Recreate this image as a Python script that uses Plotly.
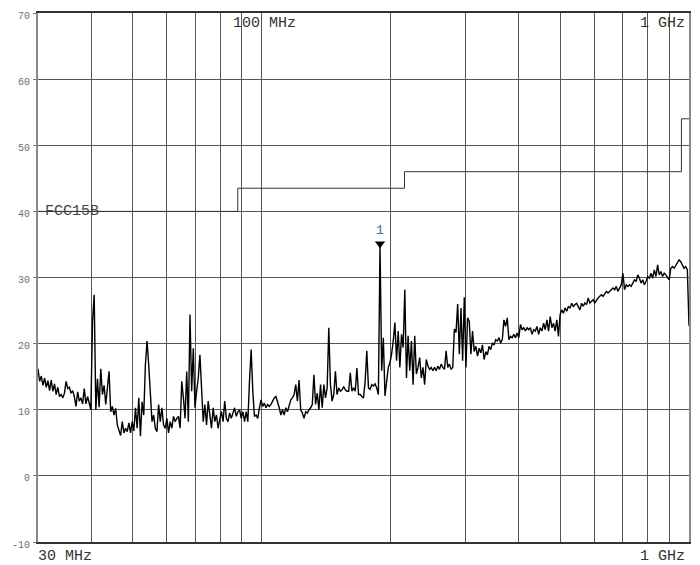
import numpy as np
import plotly.graph_objects as go

# Sweep settings (spectrum analyzer, log sweep)
F_START_MHZ = 30
F_STOP_MHZ = 1000

level_30_48 = [
    16.2, 14.3, 15.1, 13.7, 14.8, 13.4, 14.4, 12.9, 14.5, 12.8,
    13.9, 12.3, 13.4, 12.0, 12.3, 11.8, 12.5, 14.3, 13.2, 13.4,
    12.5, 12.9, 12.0, 10.5, 12.7, 11.3, 11.8, 10.9, 13.2, 10.9,
    12.0, 10.7, 10.0, 23.4, 27.4, 10.0, 14.7, 10.4, 16.2, 12.3,
    13.7, 10.8, 13.3, 15.8, 9.7, 10.5, 9.2, 10.2, 7.7, 7.0,
    6.1, 8.2, 6.5, 7.2, 6.7, 8.0, 6.5, 8.2, 6.8, 10.3,
    7.2, 11.8, 6.0, 11.2, 9.2, 16.8,
]
level_48_100 = [
    20.4, 16.8, 11.8, 8.2, 9.2, 7.2, 6.7, 10.8, 8.2, 10.3,
    7.7, 7.2, 8.7, 6.5, 8.2, 7.2, 9.0, 8.2, 8.7, 9.0,
    7.2, 14.3, 11.8, 8.7, 15.8, 8.2, 24.4, 12.8, 19.3, 10.3,
    12.8, 14.8, 18.3, 12.3, 8.2, 10.8, 7.7, 11.3, 9.2, 7.2,
    10.3, 8.2, 9.2, 7.2, 8.5, 9.7, 8.2, 11.3, 8.7, 8.2,
    9.5, 8.7, 9.5, 10.3, 9.0, 9.7, 10.0, 8.7, 9.7, 8.2,
    9.7, 8.2, 14.3, 19.1, 12.8, 9.0,
]
level_100_180 = [
    9.2, 8.7, 10.3, 11.5, 10.5, 11.0, 10.3, 10.8, 10.5, 10.8,
    11.3, 11.8, 12.0, 11.3, 10.3, 9.2, 10.0, 9.2, 10.3, 9.7,
    10.5, 11.5, 11.8, 12.3, 13.8, 11.3, 14.5, 10.0, 9.5, 8.7,
    9.7, 9.5, 10.0, 10.3, 10.8, 15.3, 10.8, 12.5, 10.0, 13.8,
    10.3, 13.8, 11.8, 13.3, 22.4, 13.8, 11.3, 12.3, 15.8, 12.3,
    13.3, 12.8, 13.0, 13.5, 13.0, 12.8, 12.8, 15.6, 12.8, 13.3,
    12.8, 16.3, 12.3, 12.3, 12.0, 11.8,
]
level_180_320 = [
    14.3, 18.9, 13.3, 13.1, 13.8, 13.6, 13.9, 13.3, 12.3, 34.8,
    15.9, 20.9, 12.1, 14.8, 16.4, 17.1, 18.4, 20.4, 23.2, 17.4,
    21.9, 16.4, 21.4, 19.4, 28.2, 14.8, 21.2, 15.9, 20.4, 13.8,
    21.2, 15.4, 16.4, 17.9, 14.8, 16.4, 13.8, 17.6, 16.6, 16.1,
    16.4, 15.9, 16.4, 15.9, 16.6, 16.1, 16.9, 16.4, 16.1, 18.9,
    16.4, 16.9, 16.1, 16.4, 22.2, 21.7, 26.0, 18.4, 25.4, 17.4,
    27.0, 16.4, 23.9, 23.4, 18.4, 21.9,
]
level_320_580 = [
    18.8, 19.6, 18.1, 19.3, 18.6, 19.8, 17.6, 18.8, 18.3, 19.6,
    19.1, 20.1, 19.8, 20.6, 20.4, 20.9, 20.1, 20.6, 23.6, 22.6,
    23.9, 20.6, 21.1, 20.9, 21.4, 20.9, 21.6, 20.9, 22.9, 22.1,
    22.4, 21.9, 22.4, 22.1, 22.4, 21.4, 22.1, 21.9, 22.6, 21.4,
    22.4, 21.9, 23.1, 22.1, 23.6, 21.9, 24.1, 22.4, 23.1, 21.9,
    23.6, 21.1, 24.4, 25.1, 24.6, 25.4, 24.9, 25.6, 25.4, 26.1,
    25.6, 25.9, 26.1, 25.6, 25.1, 26.1,
]
level_580_1000 = [
    25.65, 26.15, 25.9, 26.9, 26.15, 26.4, 26.65, 26.15, 26.65, 26.9,
    27.15, 27.4, 27.15, 27.65, 27.9, 27.65, 27.9, 28.15, 28.4, 28.15,
    28.65, 27.9, 28.4, 28.9, 30.65, 28.15, 28.9, 28.65, 28.9, 28.65,
    29.15, 29.65, 29.4, 30.4, 29.9, 29.15, 29.65, 28.9, 29.4, 30.15,
    29.9, 30.65, 29.9, 31.15, 30.15, 31.9, 30.4, 30.9, 30.15, 30.65,
    30.4, 29.9, 29.65, 31.4, 31.65, 31.4, 31.9, 32.15, 32.65, 32.4,
    31.9, 31.4, 31.65, 31.2, 22.7,
]
level = (level_30_48 + level_48_100 + level_100_180 + level_180_320
         + level_320_580 + level_580_1000)
freq = np.geomspace(F_START_MHZ, F_STOP_MHZ, len(level))

# FCC Part 15 class B limit
limit_freq = [30, 88, 216, 960, 1000]
limit_level = [40, 43.5, 46, 54, 54]
limit_name = "FCC15B"

# Marker
marker_freq = [189.3]
marker_level = [35.1]
marker_label = ["1"]

# Axis ticks / grid
x_grid = [30, 40, 50, 60, 70, 80, 90, 100, 200, 300, 400, 500, 600, 700, 800, 900, 1000]
y_ticks = [-10, 0, 10, 20, 30, 40, 50, 60, 70]
y_ticktext = ["-10", "0", "10", "20", "30", "40", "50", "60", "70"]

MONO = "Liberation Mono"

fig = go.Figure()
fig.add_trace(go.Scatter(x=limit_freq, y=limit_level, mode="lines",
                         line=dict(color="#333333", width=1, shape="hv"),
                         hoverinfo="skip", showlegend=False))
fig.add_trace(go.Scatter(x=freq, y=level, mode="lines",
                         line=dict(color="#000000", width=1.4),
                         showlegend=False))
fig.add_trace(go.Scatter(x=marker_freq, y=marker_level, mode="markers+text",
                         marker=dict(symbol="triangle-down", size=9, color="#000000"),
                         text=marker_label, textposition="top center",
                         textfont=dict(family=MONO, size=13, color="#3f66a8"),
                         showlegend=False))

# Positions as fractions of the reference plot area (x 40..696, y 13..542)
def px(xp):
    return (xp - 40) / 656.0

def py(yp):
    return (542 - yp) / 529.0

annos = [
    dict(text="100 MHz", x=px(234), y=py(24), xanchor="left"),
    dict(text="1 GHz", x=px(694), y=py(24), xanchor="right"),
    dict(text="30 MHz", x=px(38), y=py(556), xanchor="left"),
    dict(text="1 GHz", x=px(694), y=py(556), xanchor="right"),
]
for a in annos:
    fig.add_annotation(xref="paper", yref="paper", yanchor="middle", showarrow=False,
                       font=dict(family=MONO, size=15, color="#333333"), **a)
fig.add_annotation(text=limit_name, xref="paper", yref="y", x=px(45), y=40,
                   xanchor="left", yanchor="middle", showarrow=False,
                   font=dict(family=MONO, size=15, color="#444444"))

fig.update_xaxes(type="log", range=[np.log10(F_START_MHZ), np.log10(F_STOP_MHZ)],
                 tickvals=x_grid, showticklabels=False, ticks="",
                 showgrid=True, gridcolor="#555555", gridwidth=1,
                 showline=True, linecolor="#333333", linewidth=2, mirror=True,
                 zeroline=False)
fig.update_yaxes(range=[-10, 70], tickvals=y_ticks, ticktext=y_ticktext,
                 ticks="outside", ticklen=3, tickcolor="#777777",
                 tickfont=dict(family=MONO, size=10, color="#6f6f6f"),
                 ticklabelshift=2, ticklabelstandoff=1,
                 showgrid=True, gridcolor="#555555", gridwidth=1,
                 showline=True, linecolor="#888888", linewidth=2, mirror=True,
                 zeroline=False, automargin=False)
# The page adds an 8px body margin and the visible width ends near x=692,
# so the figure is offset and the plot area is kept inside the visible part.
fig.update_layout(width=692, height=557,
                  margin=dict(l=30, r=11, t=5, b=23, autoexpand=False),
                  plot_bgcolor="white", paper_bgcolor="white")

fig.write_html("out.html")
